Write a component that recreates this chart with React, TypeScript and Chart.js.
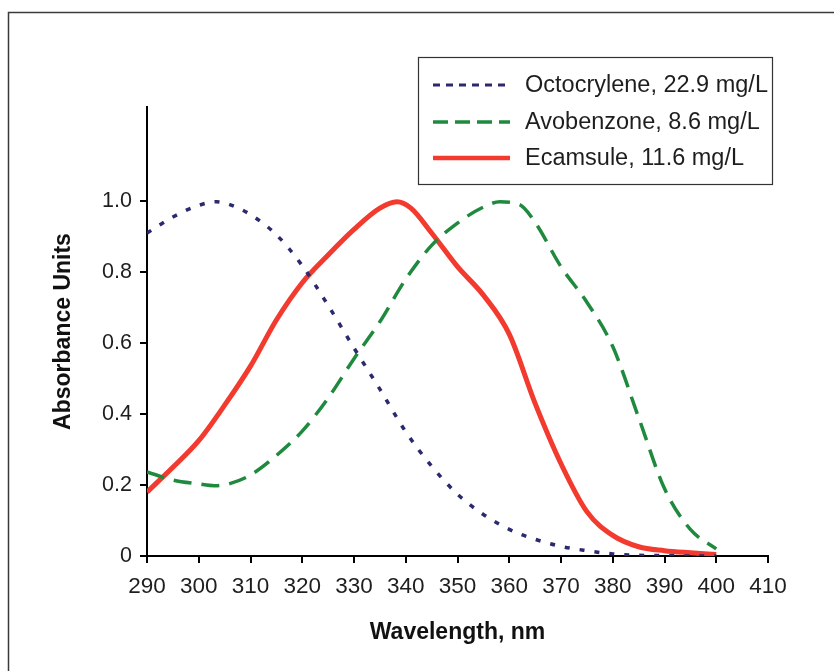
import React, { useEffect, useRef } from "react";
import { Chart, registerables } from "chart.js";

Chart.register(...registerables);

// ---- data ----
const octoNm = [290, 295, 300, 303.5, 306, 310, 315, 320, 325, 330, 335, 340, 345, 350, 355, 360, 365, 370, 375, 380, 385, 390, 395, 400];
const octoAbs = [0.91, 0.955, 0.988, 0.998, 0.99, 0.962, 0.905, 0.818, 0.706, 0.586, 0.47, 0.35, 0.253, 0.174, 0.117, 0.075, 0.047, 0.027, 0.015, 0.006, 0.002, 0.001, 0, 0];

const avoNm = [290, 295, 300, 303, 306, 310, 315, 320, 325, 330, 335, 340, 345, 350, 355, 358.2, 362, 365, 370, 375, 380, 385, 390, 395, 400];
const avoAbs = [0.237, 0.214, 0.203, 0.198, 0.204, 0.228, 0.283, 0.352, 0.445, 0.556, 0.66, 0.78, 0.875, 0.938, 0.983, 0.998, 0.99, 0.94, 0.815, 0.715, 0.59, 0.39, 0.19, 0.075, 0.02];

const ecaNm = [290, 295, 300, 305, 310, 315, 320, 325, 330, 335, 338.3, 341, 345, 350, 355, 360, 365, 370, 375, 380, 385, 390, 395, 400];
const ecaAbs = [0.18, 0.25, 0.325, 0.425, 0.535, 0.665, 0.77, 0.848, 0.92, 0.98, 0.998, 0.98, 0.91, 0.815, 0.735, 0.625, 0.43, 0.26, 0.125, 0.058, 0.026, 0.015, 0.009, 0.004];

const seriesNames = ["Octocrylene, 22.9 mg/L", "Avobenzone, 8.6 mg/L", "Ecamsule, 11.6 mg/L"];
const seriesColors = ["#2c2a6e", "#1f8a3e", "#f23b2e"];
const yTickValues = [0, 0.2, 0.4, 0.6, 0.8, 1.0];
const xTitle = "Wavelength, nm";
const yTitle = "Absorbance Units";

const FONT = "'Liberation Sans', Arial, Helvetica, sans-serif";

const toPoints = (xs: number[], ys: number[]) => xs.map((x, i) => ({ x, y: ys[i] }));

const legendDashes = [[7, 6], [15, 7], []];
const legendWidths = [3, 3.5, 4.5];

const decorPlugin = {
  id: "decor",
  beforeDraw(chart: any) {
    const ctx = chart.ctx;
    ctx.save();
    ctx.strokeStyle = "#3a3a3a";
    ctx.lineWidth = 1.5;
    ctx.beginPath();
    ctx.moveTo(8.5, 671);
    ctx.lineTo(8.5, 12.5);
    ctx.lineTo(834, 12.5);
    ctx.stroke();
    ctx.restore();
  },
  afterDraw(chart: any) {
    const ctx = chart.ctx;
    ctx.save();
    ctx.fillStyle = "#fff";
    ctx.fillRect(418.5, 57.5, 354, 127);
    ctx.strokeStyle = "#333";
    ctx.lineWidth = 1.2;
    ctx.strokeRect(418.5, 57.5, 354, 127);
    const rows = [85, 122, 158];
    seriesNames.forEach((name, i) => {
      ctx.beginPath();
      ctx.setLineDash(legendDashes[i]);
      ctx.strokeStyle = seriesColors[i];
      ctx.lineWidth = legendWidths[i];
      ctx.moveTo(433, rows[i]);
      ctx.lineTo(510, rows[i]);
      ctx.stroke();
      ctx.setLineDash([]);
      ctx.fillStyle = "#1e1e1e";
      ctx.font = `23.5px ${FONT}`;
      ctx.textBaseline = "middle";
      ctx.textAlign = "left";
      ctx.fillText(name, 525, rows[i] + 1);
    });
    ctx.restore();
  },
};

export default function App() {
  const ref = useRef<HTMLCanvasElement | null>(null);
  useEffect(() => {
    if (!ref.current) return;
    const chart = new Chart(ref.current, {
      type: "line",
      data: {
        datasets: [
          {
            label: seriesNames[0],
            data: toPoints(octoNm, octoAbs),
            borderColor: seriesColors[0],
            borderWidth: 3.5,
            borderDash: [5, 10],
            pointRadius: 0,
            cubicInterpolationMode: "monotone",
            fill: false,
          },
          {
            label: seriesNames[1],
            data: toPoints(avoNm, avoAbs),
            borderColor: seriesColors[1],
            borderWidth: 3.5,
            borderDash: [18, 10],
            pointRadius: 0,
            cubicInterpolationMode: "monotone",
            fill: false,
          },
          {
            label: seriesNames[2],
            data: toPoints(ecaNm, ecaAbs),
            borderColor: seriesColors[2],
            borderWidth: 5,
            pointRadius: 0,
            cubicInterpolationMode: "monotone",
            fill: false,
          },
        ],
      },
      options: {
        animation: false,
        responsive: false,
        layout: { padding: { top: 107, right: 66, left: 0, bottom: 0 } },
        plugins: { legend: { display: false }, title: { display: false }, tooltip: { enabled: false } },
        scales: {
          x: {
            type: "linear",
            min: 290,
            max: 410,
            ticks: { stepSize: 10, color: "#1e1e1e", font: { size: 22.5, family: FONT }, padding: 10, maxRotation: 0 },
            grid: { display: true, drawOnChartArea: false, drawTicks: true, tickLength: 7, color: "#000", lineWidth: 2 },
            border: { display: true, color: "#000", width: 2 },
            title: {
              display: true,
              text: xTitle,
              color: "#111",
              font: { size: 23, weight: "bold", family: FONT, lineHeight: 1.2 },
              padding: { top: 0, bottom: 25 },
            },
            afterFit: (s: any) => {
              s.height = 115;
            },
          },
          y: {
            type: "linear",
            min: 0,
            max: 1.265,
            afterBuildTicks: (s: any) => {
              s.ticks = yTickValues.map((v) => ({ value: v }));
            },
            ticks: {
              color: "#1e1e1e",
              font: { size: 21.5, family: FONT },
              padding: 8,
              callback: (v: any) => (Number(v) === 0 ? "0" : Number(v).toFixed(1)),
            },
            grid: { display: true, drawOnChartArea: false, drawTicks: true, tickLength: 7, color: "#000", lineWidth: 2 },
            border: { display: true, color: "#000", width: 2 },
            title: {
              display: true,
              text: yTitle,
              color: "#111",
              font: { size: 23, weight: "bold", family: FONT, lineHeight: 1.2 },
              padding: { top: 50, bottom: 0 },
            },
            afterFit: (s: any) => {
              s.width = 147;
            },
          },
        },
      },
      plugins: [decorPlugin],
    } as any);
    return () => chart.destroy();
  }, []);
  return (
    <div style={{ position: "absolute", left: 0, top: 0, width: 834, height: 671, background: "#fff" }}>
      <canvas ref={ref} width={834} height={671} style={{ width: 834, height: 671, display: "block" }} />
    </div>
  );
}
